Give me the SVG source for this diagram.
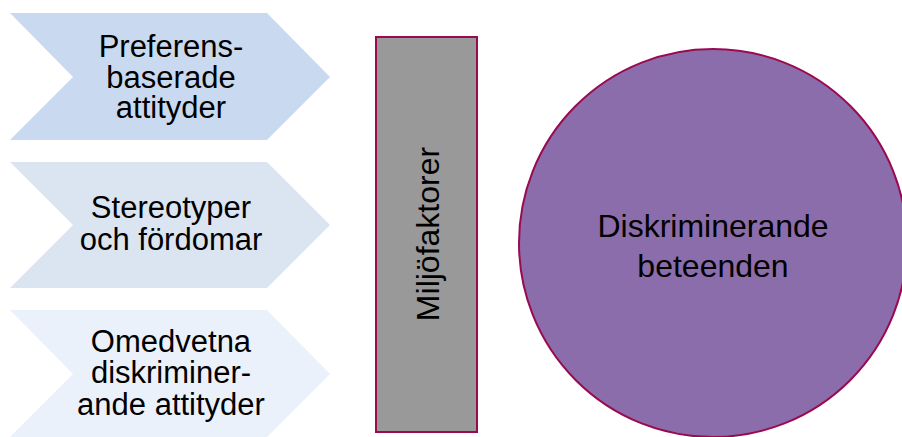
<svg xmlns="http://www.w3.org/2000/svg" width="902" height="437" viewBox="0 0 902 437">
<style>
.t{font-family:"Liberation Sans",Arial,sans-serif;font-size:31px;fill:#000;text-anchor:middle}
.b{font-size:32px}
.ln{stroke:#990a50;stroke-width:2}
</style>
<rect width="902" height="437" fill="#fff"/>
<g id="chevron1">
<polygon points="10,13 267,13 330,77 267,140 10,140 73,77" fill="#c9daf0"/>
<text class="t" x="171" y="57">Preferens-</text>
<text class="t" x="171" y="88">baserade</text>
<text class="t" x="171" y="118">attityder</text>
</g>
<g id="chevron2">
<polygon points="10,162 267,162 330,225 267,288 10,288 73,225" fill="#dbe5f2"/>
<text class="t" x="171" y="218">Stereotyper</text>
<text class="t" x="171" y="250">och fördomar</text>
</g>
<g id="chevron3">
<polygon points="10,310 267,310 330,374 267,437 10,437 73,374" fill="#eaf1fa"/>
<text class="t" x="171" y="352">Omedvetna</text>
<text class="t" x="171" y="383">diskriminer-</text>
<text class="t" x="171" y="415">ande attityder</text>
</g>
<g id="miljofaktorer">
<rect class="ln" x="376" y="37" width="101" height="395" fill="#999999"/>
<text class="t b" transform="translate(439,234) rotate(-90)" x="0" y="0">Miljöfaktorer</text>
</g>
<g id="beteenden">
<circle class="ln" cx="713" cy="243" r="194" fill="#8c6dac"/>
<text class="t b" x="713" y="237">Diskriminerande</text>
<text class="t b" x="713" y="277">beteenden</text>
</g>
<g id="connectors"></g>
</svg>
